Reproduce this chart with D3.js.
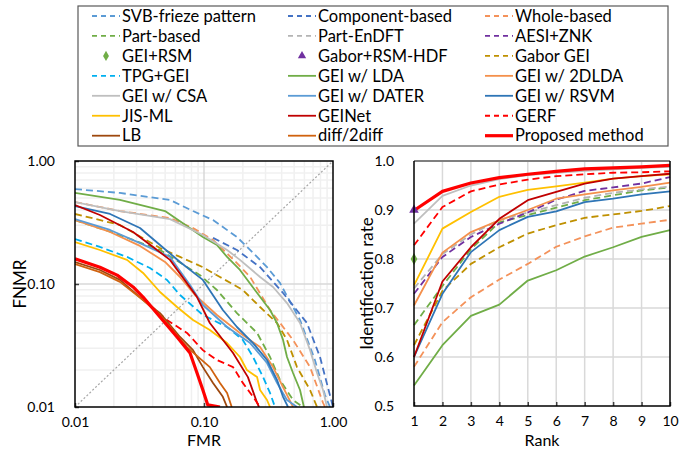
<!DOCTYPE html>
<html>
<head>
<meta charset="utf-8">
<script src="https://cdn.jsdelivr.net/npm/d3@7"></script>
<style>
  body { margin: 0; background: #fff; }
  svg { display: block; font-family: Lato, "Noto Sans", sans-serif; }
</style>
</head>
<body>
<script>
// ---- data ----
const methodNames = [
  "SVB-frieze pattern", "Component-based", "Whole-based",
  "Part-based", "Part-EnDFT", "AESI+ZNK",
  "GEI+RSM", "Gabor+RSM-HDF", "Gabor GEI",
  "TPG+GEI", "GEI w/ LDA", "GEI w/ 2DLDA",
  "GEI w/ CSA", "GEI w/ DATER", "GEI w/ RSVM",
  "JIS-ML", "GEINet", "GERF",
  "LB", "diff/2diff", "Proposed method"
];
const ranks = [1, 2, 3, 4, 5, 6, 7, 8, 9, 10];
const detTickValues = [0.01, 0.1, 1];
const cmcTickValues = [0.5, 0.6, 0.7, 0.8, 0.9, 1.0];

// DET curves, [FMR, FNMR]
const detSVB = [[0.01,0.591],[0.0223,0.55],[0.0545,0.482],[0.0822,0.392],[0.1175,0.331],[0.18,0.241],[0.24,0.179],[0.308,0.137],[0.388,0.102],[0.555,0.051],[0.724,0.0241],[0.867,0.0125],[0.948,0.01]];
const detComponent = [[0.1175,0.237],[0.18,0.189],[0.272,0.137],[0.41,0.0845],[0.628,0.0482],[0.793,0.0255],[1.0,0.01]];
const detWhole = [[0.01,0.464],[0.0223,0.392],[0.0545,0.344],[0.0822,0.285],[0.1175,0.228],[0.18,0.148],[0.228,0.114],[0.325,0.0615],[0.49,0.0351],[0.664,0.0211],[0.837,0.0108],[0.867,0.01]];
const detPart = [[0.01,0.331],[0.0223,0.25],[0.0456,0.189],[0.0932,0.118],[0.126,0.0894],[0.18,0.058],[0.258,0.04],[0.325,0.0255],[0.388,0.0166],[0.49,0.0114],[0.585,0.01]];
const detGaborGei = [[0.01,0.371],[0.0223,0.302],[0.0456,0.196],[0.0652,0.166],[0.098,0.137],[0.133,0.114],[0.2,0.0894],[0.272,0.065],[0.368,0.0482],[0.44,0.0351],[0.526,0.0211],[0.664,0.01375],[0.752,0.01]];
const detTpg = [[0.01,0.232],[0.0156,0.2],[0.0253,0.166],[0.0381,0.135],[0.0516,0.108],[0.0652,0.0814],[0.098,0.056],[0.151,0.0447],[0.2,0.0351],[0.24,0.0255],[0.287,0.0175],[0.325,0.013],[0.355,0.01]];
const detLda = [[0.01,0.55],[0.0223,0.482],[0.0499,0.392],[0.098,0.241],[0.126,0.2075],[0.151,0.166],[0.19,0.13],[0.248,0.0894],[0.325,0.0615],[0.368,0.0482],[0.41,0.0351],[0.44,0.0255],[0.49,0.0189],[0.555,0.01375],[0.595,0.01]];
const det2dlda = [[0.01,0.331],[0.0187,0.265],[0.0319,0.204],[0.0499,0.151],[0.0652,0.114],[0.0851,0.0814],[0.126,0.056],[0.19,0.04],[0.272,0.0307],[0.343,0.0211],[0.41,0.0145],[0.49,0.01]];
const detCsa = [[0.01,0.464],[0.0223,0.392],[0.0545,0.337],[0.098,0.25],[0.151,0.189],[0.19,0.157],[0.272,0.114],[0.343,0.0946],[0.44,0.07],[0.555,0.0482],[0.664,0.029],[0.752,0.0189],[0.837,0.01375],[0.898,0.01]];
const detDater = [[0.01,0.337],[0.0187,0.275],[0.0319,0.215],[0.0545,0.166],[0.0779,0.098],[0.098,0.0675],[0.151,0.0447],[0.228,0.0331],[0.308,0.0228],[0.368,0.0157],[0.44,0.0114],[0.526,0.01]];
const detRsvm = [[0.01,0.43],[0.0187,0.371],[0.0319,0.285],[0.0456,0.2075],[0.0652,0.151],[0.098,0.108],[0.14,0.0615],[0.18,0.0447],[0.24,0.0331],[0.308,0.0241],[0.368,0.0166],[0.41,0.0121],[0.448,0.01]];
const detJis = [[0.01,0.219],[0.0156,0.189],[0.0253,0.157],[0.0337,0.123],[0.0456,0.0861],[0.0618,0.065],[0.0822,0.051],[0.111,0.0423],[0.151,0.0331],[0.19,0.0255],[0.215,0.02],[0.258,0.0175],[0.272,0.01375],[0.308,0.0114],[0.325,0.01]];
const detGeinet = [[0.01,0.438],[0.0156,0.364],[0.0282,0.265],[0.0403,0.2],[0.0545,0.157],[0.0883,0.0783],[0.111,0.0482],[0.168,0.0275],[0.219,0.0175],[0.258,0.0108],[0.267,0.01]];
const detGerf = [[0.0381,0.0675],[0.0516,0.051],[0.0738,0.04],[0.098,0.029],[0.126,0.0241],[0.168,0.0211],[0.2,0.0157],[0.24,0.0121],[0.272,0.01]];
const detLb = [[0.01,0.151],[0.0156,0.13],[0.0223,0.108],[0.0337,0.0741],[0.0456,0.058],[0.0652,0.0371],[0.0822,0.029],[0.098,0.0211],[0.1175,0.0157],[0.14,0.0121],[0.151,0.01]];
const detDiff = [[0.01,0.145],[0.0156,0.125],[0.0223,0.104],[0.0337,0.0741],[0.0456,0.056],[0.0738,0.0307],[0.111,0.0211],[0.133,0.0157],[0.151,0.013],[0.164,0.01]];
const detProposed = [[0.01,0.16],[0.0156,0.137],[0.0212,0.118],[0.0282,0.0946],[0.0337,0.0783],[0.0456,0.054],[0.0618,0.0371],[0.0779,0.0275],[0.0883,0.0189],[0.098,0.01375],[0.107,0.0104],[0.133,0.01]];

// CMC curves, identification rate for rank 1..10
const cmcWhole = [0.58,0.671,0.722,0.758,0.79,0.825,0.846,0.864,0.872,0.88];
const cmcPart = [0.665,0.745,0.82,0.875,0.89,0.905,0.92,0.93,0.94,0.946];
const cmcEnDft = [0.74,0.81,0.85,0.88,0.895,0.91,0.925,0.935,0.942,0.948];
const cmcAesi = [0.729,0.804,0.845,0.872,0.895,0.921,0.939,0.946,0.954,0.967];
const cmcGeiRsm = [0.80];
const cmcGaborHdf = [0.90];
const cmcGaborGei = [0.624,0.735,0.79,0.824,0.852,0.869,0.884,0.891,0.898,0.908];
const cmcLda = [0.542,0.624,0.684,0.707,0.756,0.777,0.805,0.824,0.845,0.859];
const cmc2dlda = [0.705,0.813,0.855,0.879,0.9,0.923,0.932,0.94,0.947,0.956];
const cmcCsa = [0.872,0.929,0.95,0.963,0.971,0.976,0.98,0.983,0.986,0.988];
const cmcRsvm = [0.6,0.729,0.814,0.859,0.886,0.897,0.916,0.923,0.932,0.938];
const cmcJis = [0.746,0.862,0.896,0.927,0.941,0.948,0.956,0.964,0.969,0.973];
const cmcGeinet = [0.6,0.754,0.824,0.882,0.92,0.937,0.954,0.964,0.969,0.974];
const cmcGerf = [0.828,0.906,0.938,0.952,0.962,0.969,0.973,0.976,0.977,0.979];
const cmcProposed = [0.899,0.938,0.955,0.966,0.973,0.979,0.984,0.986,0.988,0.991];

// ---- styles ----
const styles = {
  "SVB-frieze pattern": { color: "#5B9BD5", dash: true },
  "Component-based":    { color: "#4472C4", dash: true },
  "Whole-based":        { color: "#F4925A", dash: true },
  "Part-based":         { color: "#70AD47", dash: true },
  "Part-EnDFT":         { color: "#B4B4B4", dash: true },
  "AESI+ZNK":           { color: "#7030A0", dash: true },
  "GEI+RSM":            { color: "#70AD47", marker: "diamond" },
  "Gabor+RSM-HDF":      { color: "#7030A0", marker: "triangle" },
  "Gabor GEI":          { color: "#BF9000", dash: true },
  "TPG+GEI":            { color: "#00B0F0", dash: true },
  "GEI w/ LDA":         { color: "#70AD47" },
  "GEI w/ 2DLDA":       { color: "#F4904C" },
  "GEI w/ CSA":         { color: "#BFBFBF" },
  "GEI w/ DATER":       { color: "#5B9BD5" },
  "GEI w/ RSVM":        { color: "#2E75B6" },
  "JIS-ML":             { color: "#FFC000" },
  "GEINet":             { color: "#C00000" },
  "GERF":               { color: "#FF0000", dash: true },
  "LB":                 { color: "#9E480E" },
  "diff/2diff":         { color: "#D0620F" },
  "Proposed method":    { color: "#FF0000", width: 3.2 }
};

const detCurves = [
  ["SVB-frieze pattern", detSVB], ["Component-based", detComponent], ["Whole-based", detWhole],
  ["Part-based", detPart], ["Gabor GEI", detGaborGei], ["TPG+GEI", detTpg],
  ["GEI w/ LDA", detLda], ["GEI w/ 2DLDA", det2dlda], ["GEI w/ CSA", detCsa],
  ["GEI w/ DATER", detDater], ["GEI w/ RSVM", detRsvm], ["JIS-ML", detJis],
  ["GEINet", detGeinet], ["GERF", detGerf], ["LB", detLb], ["diff/2diff", detDiff],
  ["Proposed method", detProposed]
];
const cmcCurves = [
  ["Whole-based", cmcWhole], ["Part-based", cmcPart], ["Part-EnDFT", cmcEnDft],
  ["AESI+ZNK", cmcAesi], ["Gabor GEI", cmcGaborGei], ["GEI w/ LDA", cmcLda],
  ["GEI w/ 2DLDA", cmc2dlda], ["GEI w/ CSA", cmcCsa], ["GEI w/ RSVM", cmcRsvm],
  ["JIS-ML", cmcJis], ["GEINet", cmcGeinet], ["GERF", cmcGerf],
  ["Proposed method", cmcProposed]
];
const cmcMarks = [["GEI+RSM", cmcGeiRsm], ["Gabor+RSM-HDF", cmcGaborHdf]];

// ---- svg ----
const W = 691, H = 451;
const svg = d3.select("body").append("svg")
  .attr("width", W).attr("height", H)
  .attr("viewBox", `0 0 ${W} ${H}`);

const lineW = s => s.width || 1.8;
const dashOf = s => s.dash ? "7,4" : null;

function markerPath(type, size) {
  return d3.symbol().type(type === "diamond" ? d3.symbolDiamond : d3.symbolTriangle).size(size)();
}

// ===== left: DET =====
const L = { x0: 75, x1: 333, y0: 161, y1: 407 };
const xDet = d3.scaleLog().domain([0.01, 1]).range([L.x0, L.x1]);
const yDet = d3.scaleLog().domain([0.01, 1]).range([L.y1, L.y0]);

const gL = svg.append("g");
// minor grid
const minor = xDet.ticks().filter(v => detTickValues.indexOf(v) < 0);
gL.selectAll(".vminor").data(minor).join("line")
  .attr("x1", d => xDet(d)).attr("x2", d => xDet(d))
  .attr("y1", L.y0).attr("y2", L.y1)
  .attr("stroke", "#F0F0F0").attr("stroke-width", 1.5);
gL.selectAll(".hminor").data(minor).join("line")
  .attr("y1", d => yDet(d)).attr("y2", d => yDet(d))
  .attr("x1", L.x0).attr("x2", L.x1)
  .attr("stroke", "#F0F0F0").attr("stroke-width", 1.5);
// major grid
gL.append("line").attr("x1", xDet(0.1)).attr("x2", xDet(0.1)).attr("y1", L.y0).attr("y2", L.y1)
  .attr("stroke", "#D9D9D9").attr("stroke-width", 1.5);
gL.append("line").attr("y1", yDet(0.1)).attr("y2", yDet(0.1)).attr("x1", L.x0).attr("x2", L.x1)
  .attr("stroke", "#D9D9D9").attr("stroke-width", 1.5);

// diagonal
gL.append("line")
  .attr("x1", xDet(0.01)).attr("y1", yDet(0.01))
  .attr("x2", xDet(1)).attr("y2", yDet(1))
  .attr("stroke", "#A6A6A6").attr("stroke-width", 1.2).attr("stroke-dasharray", "2,2");

svg.append("clipPath").attr("id", "clipL").append("rect")
  .attr("x", L.x0).attr("y", L.y0 - 2).attr("width", L.x1 - L.x0 + 2).attr("height", L.y1 - L.y0 + 2);

const detLine = d3.line().x(d => xDet(d[0])).y(d => yDet(d[1]));
gL.append("g").attr("clip-path", "url(#clipL)")
  .selectAll("path").data(detCurves).join("path")
  .attr("d", d => detLine(d[1]))
  .attr("fill", "none")
  .attr("stroke", d => styles[d[0]].color)
  .attr("stroke-width", d => lineW(styles[d[0]]))
  .attr("stroke-dasharray", d => dashOf(styles[d[0]]))
  .attr("stroke-linejoin", "round");

// axes
const fmt2 = d3.format(".2f");
gL.append("g").attr("transform", `translate(0,${L.y1})`)
  .call(d3.axisBottom(xDet).tickValues(detTickValues).tickFormat(fmt2).tickSizeInner(-4).tickSizeOuter(0).tickPadding(10))
  .call(g => g.select(".domain").remove());
gL.append("g").attr("transform", `translate(${L.x0},0)`)
  .call(d3.axisLeft(yDet).tickValues(detTickValues).tickFormat(fmt2).tickSizeInner(-4).tickSizeOuter(0).tickPadding(20))
  .call(g => g.select(".domain").remove());
gL.append("rect").attr("x", L.x0).attr("y", L.y0).attr("width", L.x1 - L.x0).attr("height", L.y1 - L.y0)
  .attr("fill", "none").attr("stroke", "#000").attr("stroke-width", 1.5);

gL.append("text").attr("x", (L.x0 + L.x1) / 2).attr("y", 446)
  .attr("text-anchor", "middle").attr("font-size", 16).text("FMR");
gL.append("text").attr("transform", `translate(26,${(L.y0 + L.y1) / 2}) rotate(-90)`)
  .attr("text-anchor", "middle").attr("font-size", 17).text("FNMR");

// ===== right: CMC =====
const R = { x0: 414, x1: 670, y0: 161, y1: 406 };
const xCmc = d3.scaleLinear().domain([1, 10]).range([R.x0, R.x1]);
const yCmc = d3.scaleLinear().domain([0.5, 1]).range([R.y1, R.y0]);

const gR = svg.append("g");
gR.selectAll(".vg").data(ranks.slice(1, -1)).join("line")
  .attr("x1", d => xCmc(d)).attr("x2", d => xCmc(d)).attr("y1", R.y0).attr("y2", R.y1)
  .attr("stroke", "#D9D9D9").attr("stroke-width", 1.5);
gR.selectAll(".hg").data(cmcTickValues.slice(1, -1)).join("line")
  .attr("y1", d => yCmc(d)).attr("y2", d => yCmc(d)).attr("x1", R.x0).attr("x2", R.x1)
  .attr("stroke", "#D9D9D9").attr("stroke-width", 1.5);

const cmcLine = d3.line().x((d, i) => xCmc(ranks[i])).y(d => yCmc(d));
gR.append("g").selectAll("path").data(cmcCurves).join("path")
  .attr("d", d => cmcLine(d[1]))
  .attr("fill", "none")
  .attr("stroke", d => styles[d[0]].color)
  .attr("stroke-width", d => lineW(styles[d[0]]))
  .attr("stroke-dasharray", d => dashOf(styles[d[0]]))
  .attr("stroke-linejoin", "round");

gR.append("g").selectAll("path").data(cmcMarks).join("path")
  .attr("transform", d => `translate(${xCmc(ranks[0])},${yCmc(d[1][0])})`)
  .attr("d", d => markerPath(styles[d[0]].marker, 40))
  .attr("fill", d => styles[d[0]].color);

gR.append("g").attr("transform", `translate(0,${R.y1})`)
  .call(d3.axisBottom(xCmc).tickValues(ranks).tickFormat(d3.format("d")).tickSizeInner(-4).tickSizeOuter(0).tickPadding(10))
  .call(g => g.select(".domain").remove());
gR.append("g").attr("transform", `translate(${R.x0},0)`)
  .call(d3.axisLeft(yCmc).tickValues(cmcTickValues).tickFormat(d3.format(".1f")).tickSize(0).tickPadding(20))
  .call(g => g.select(".domain").remove());

gR.append("line").attr("x1", R.x0).attr("x2", R.x1).attr("y1", R.y0).attr("y2", R.y0)
  .attr("stroke", "#7F7F7F").attr("stroke-width", 2);
gR.append("path")
  .attr("d", `M${R.x0},${R.y0}V${R.y1}H${R.x1}V${R.y0}`)
  .attr("fill", "none").attr("stroke", "#000").attr("stroke-width", 1.5);

gR.append("text").attr("x", (R.x0 + R.x1) / 2).attr("y", 446)
  .attr("text-anchor", "middle").attr("font-size", 16).text("Rank");
gR.append("text").attr("transform", `translate(373,${(R.y0 + R.y1) / 2}) rotate(-90)`)
  .attr("text-anchor", "middle").attr("font-size", 17).text("Identification rate");

svg.selectAll(".tick text").attr("font-size", 14).attr("fill", "#000")
  .attr("font-family", "Lato, sans-serif");
svg.selectAll(".tick line").attr("stroke", "#404040").attr("stroke-width", 1.5);

// ===== legend =====
const leg = { x: 78, y: 6, w: 590, h: 140 };
svg.append("rect").attr("x", leg.x).attr("y", leg.y).attr("width", leg.w).attr("height", leg.h)
  .attr("fill", "#fff").attr("stroke", "#595959").attr("stroke-width", 1.2);
const colX = [92, 288, 485];
const rowY0 = 16, rowDy = 19.95;
const items = svg.append("g").selectAll("g").data(methodNames).join("g")
  .attr("transform", (d, i) => `translate(${colX[i % 3]},${rowY0 + Math.floor(i / 3) * rowDy})`);
items.each(function (name) {
  const s = styles[name], g = d3.select(this);
  if (s.marker) {
    g.append("path").attr("transform", "translate(14,0)")
      .attr("d", markerPath(s.marker, 30)).attr("fill", s.color);
  } else {
    g.append("line").attr("x1", 0).attr("x2", 28).attr("y1", 0).attr("y2", 0)
      .attr("stroke", s.color).attr("stroke-width", lineW(s))
      .attr("stroke-dasharray", s.dash ? "5,4" : null);
  }
  g.append("text").attr("x", 30).attr("dy", "0.35em").attr("font-size", 16.5).text(name);
});
</script>
</body>
</html>
